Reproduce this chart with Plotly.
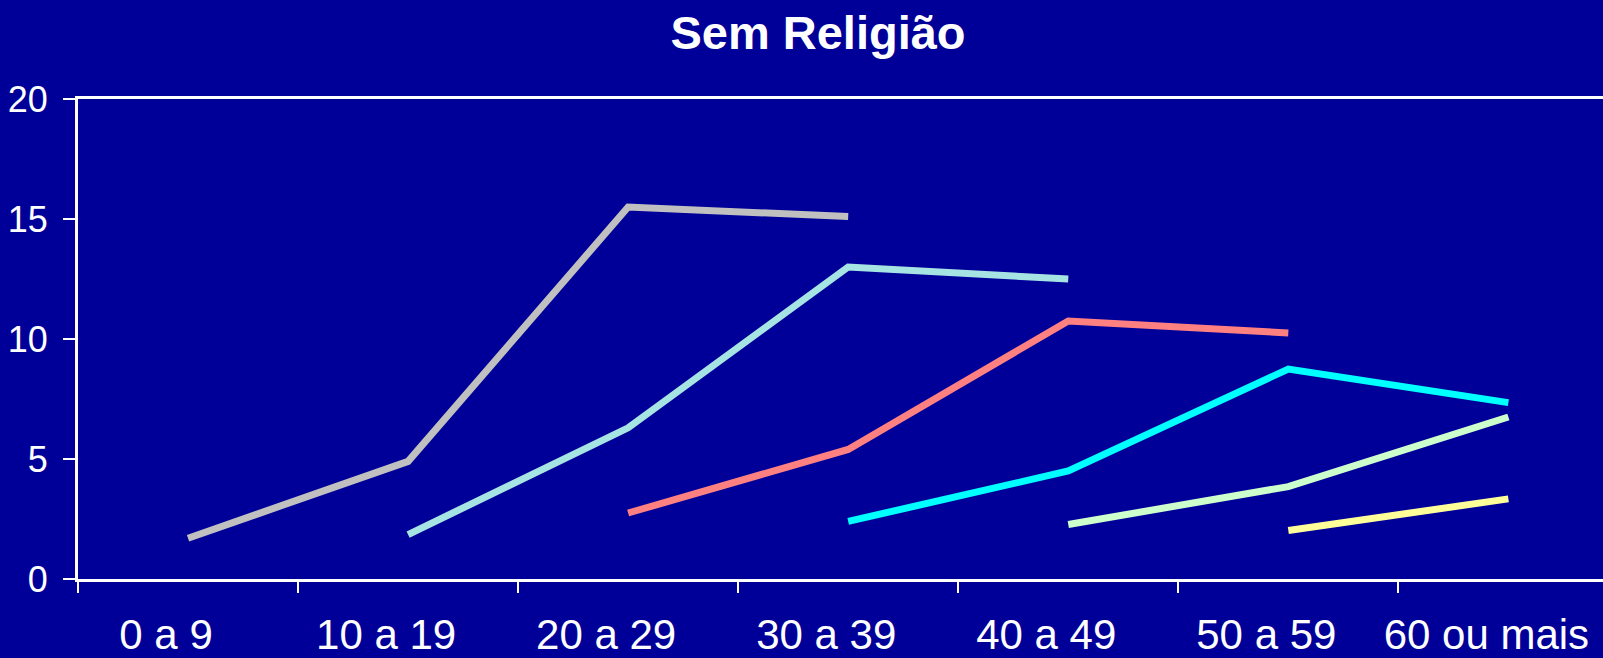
import plotly.graph_objects as go

categories = ["0 a 9", "10 a 19", "20 a 29", "30 a 39", "40 a 49", "50 a 59", "60 ou mais"]

coorte_1 = [1.7, 4.9, 15.5, 15.1, None, None, None]
coorte_2 = [None, 1.85, 6.3, 13.0, 12.5, None, None]
coorte_3 = [None, None, 2.75, 5.4, 10.75, 10.25, None]
coorte_4 = [None, None, None, 2.4, 4.5, 8.75, 7.35]
coorte_5 = [None, None, None, None, 2.27, 3.85, 6.75]
coorte_6 = [None, None, None, None, None, 2.02, 3.34]

series = [coorte_1, coorte_2, coorte_3, coorte_4, coorte_5, coorte_6]
colors = ["#C0C0C0", "#A6E3E3", "#FF8080", "#00FFFF", "#CCFFCC", "#FFFF99"]

bg = "#000099"

fig = go.Figure()
for vals, col in zip(series, colors):
    fig.add_trace(go.Scatter(x=categories, y=vals, mode="lines",
                             line=dict(color=col, width=7),
                             connectgaps=False, showlegend=False,
                             hoverinfo="skip"))

fig.update_layout(
    width=1603, height=658,
    paper_bgcolor=bg, plot_bgcolor=bg,
    margin=dict(l=78, r=0, t=99, b=79, autoexpand=False),
    title=dict(text="<b>Sem Religião</b>", x=818/1603, xanchor="center",
               xref="container", yref="container", y=1 - 33/658, yanchor="middle",
               font=dict(family="Liberation Sans, Arial", size=47, color="white")),
    font=dict(family="Liberation Sans, Arial", color="white"),
)

fig.update_xaxes(
    type="category", categoryorder="array", categoryarray=categories,
    range=[-0.5, 6.43], automargin=False,
    showline=True, linecolor="white", linewidth=3, mirror=True,
    ticks="outside", tickson="boundaries", ticklen=11, tickwidth=2, tickcolor="white",
    showgrid=False, zeroline=False,
    tickfont=dict(size=42, color="white"),
    ticklabelshift=-22, ticklabelstandoff=17,
)
fig.update_yaxes(
    range=[0, 20], tickvals=[0, 5, 10, 15, 20], automargin=False,
    showline=True, linecolor="white", linewidth=3, mirror=False,
    ticks="outside", ticklen=12, tickwidth=2, tickcolor="white",
    showgrid=False, zeroline=False,
    tickfont=dict(size=36, color="white"),
    ticklabelstandoff=8,
)

fig.write_html(
    "out.html",
    config={"displayModeBar": False},
    post_script="document.body.style.margin='0';document.body.style.overflow='hidden';document.documentElement.style.background='" + bg + "';",
)
